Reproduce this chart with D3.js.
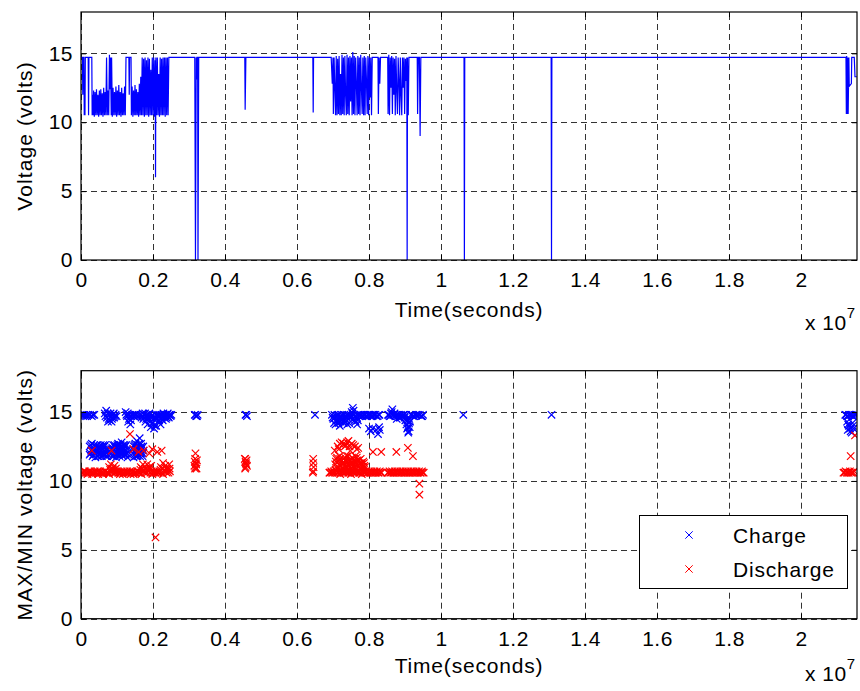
<!DOCTYPE html>
<html><head><meta charset="utf-8">
<script src="https://cdn.jsdelivr.net/npm/d3@7"></script>
<style>
body{margin:0;background:#fff;}
text{font-family:"Liberation Sans",Arial,sans-serif;fill:#000;}
</style></head>
<body>
<svg id="chart" width="860" height="691"></svg>
<script>
// ---------- DATA (time in units of 1e7 s, voltage in volts) ----------
const xTicks = [0,0.2,0.4,0.6,0.8,1,1.2,1.4,1.6,1.8,2];
const yTicks = [0,5,10,15];
const xMax = 2.1556;
const yMax = 18;
const seriesNames = ["Charge","Discharge"];
const topYLabel = "Voltage (volts)";
const botYLabel = "MAX/MIN voltage (volts)";
const xLabel = "Time(seconds)";

const voltageTrace = [
[0.000,14.7],[0.004,14.7],[0.005,12.0],[0.006,14.7],[0.008,14.7],[0.009,10.5],[0.010,12.2],[0.011,10.5],[0.012,14.7],
[0.020,14.7],[0.021,10.5],[0.022,14.7],[0.030,14.7],[0.031,10.5],[0.032,12.0],[0.034,10.5],[0.035,12.3],[0.037,10.4],
[0.039,12.2],[0.041,10.5],[0.043,12.4],[0.045,10.5],[0.047,12.0],[0.049,10.4],[0.051,12.3],[0.053,10.5],[0.055,12.4],
[0.057,10.5],[0.059,12.1],[0.061,10.4],[0.063,12.5],[0.065,10.5],[0.067,12.2],[0.069,10.5],[0.071,14.7],[0.073,10.5],
[0.075,12.3],[0.077,10.5],[0.079,14.9],[0.080,12.4],[0.082,14.7],[0.084,10.5],[0.085,14.7],[0.087,10.4],[0.089,12.5],
[0.091,10.5],[0.093,12.2],[0.095,10.5],[0.097,12.6],[0.099,10.4],[0.101,12.3],[0.103,10.5],[0.105,12.7],[0.107,10.5],
[0.109,12.2],[0.111,10.4],[0.113,12.5],[0.115,10.5],[0.117,12.1],[0.119,10.5],[0.121,12.6],[0.123,10.5],[0.125,14.7],
[0.133,14.7],[0.134,12.0],[0.135,14.7],[0.139,14.7],[0.140,10.5],[0.142,12.6],[0.144,10.4],[0.146,12.3],[0.148,10.5],
[0.150,12.7],[0.152,10.5],[0.154,12.4],[0.156,10.5],[0.158,12.2],[0.160,10.4],[0.162,12.8],[0.164,10.5],[0.166,13.3],
[0.168,10.5],[0.170,14.7],[0.172,10.5],[0.174,14.6],[0.176,10.4],[0.178,14.7],[0.180,10.5],[0.182,14.5],[0.184,10.5],
[0.186,14.7],[0.188,10.4],[0.190,14.6],[0.192,10.5],[0.194,13.8],[0.196,10.5],[0.198,14.7],[0.200,10.5],[0.202,14.7],
[0.204,10.4],[0.206,14.5],[0.207,6.0],[0.208,14.7],[0.210,10.5],[0.212,14.7],[0.214,10.5],[0.216,13.5],[0.218,10.4],
[0.220,14.7],[0.222,10.5],[0.224,14.6],[0.226,10.5],[0.228,14.7],[0.230,10.5],[0.232,14.7],[0.234,10.4],[0.236,14.7],
[0.238,10.5],[0.240,14.7],[0.242,10.5],[0.244,14.7],
[0.316,14.7],[0.318,0],[0.320,14.7],[0.321,13.1],[0.322,14.7],[0.324,14.7],[0.325,0],[0.327,14.7],
[0.455,14.7],[0.456,10.9],[0.458,14.7],
[0.644,14.7],[0.645,10.7],[0.646,14.7],
[0.695,14.7],[0.698,12.8],[0.700,14.7],[0.701,10.6],[0.703,14.7],[0.705,12.5],[0.707,10.5],[0.709,14.8],[0.711,10.5],
[0.713,14.6],[0.715,10.6],[0.717,14.8],[0.719,10.5],[0.721,13.5],[0.723,10.5],[0.725,14.9],[0.727,10.6],[0.729,14.7],
[0.731,10.5],[0.733,14.8],[0.735,12.0],[0.737,10.5],[0.739,14.9],[0.741,10.6],[0.743,14.7],[0.745,10.5],[0.747,14.8],
[0.749,11.5],[0.751,14.7],[0.753,10.5],[0.755,15.1],[0.757,10.6],[0.759,14.8],[0.761,10.5],[0.763,14.7],[0.765,12.8],
[0.767,10.5],[0.769,14.8],[0.771,10.6],[0.773,14.7],[0.775,10.5],[0.777,14.9],[0.779,12.5],[0.781,10.6],[0.783,14.7],
[0.785,10.5],[0.787,14.8],[0.789,10.5],[0.791,14.7],[0.793,13.0],[0.795,10.6],[0.797,14.8],[0.799,10.5],[0.801,14.7],
[0.803,11.8],[0.805,14.7],[0.807,10.5],[0.809,14.7],[0.825,14.7],[0.826,10.6],[0.828,14.7],[0.830,12.8],[0.832,14.7],
[0.852,14.7],[0.853,10.6],[0.855,14.9],[0.857,10.5],[0.859,14.7],[0.861,12.5],[0.863,14.8],[0.865,10.6],[0.867,14.7],
[0.869,12.0],[0.871,14.6],[0.873,10.5],[0.875,14.8],[0.877,12.3],[0.879,10.6],[0.881,14.7],[0.883,13.0],[0.885,10.5],
[0.887,14.7],[0.889,12.0],[0.891,10.5],[0.893,14.7],[0.895,12.5],[0.897,14.7],[0.899,10.6],[0.901,14.6],[0.903,13.0],
[0.905,14.7],[0.906,0],[0.907,14.7],[0.909,10.5],[0.911,14.7],
[0.934,14.7],[0.935,10.6],[0.937,14.7],[0.940,14.7],[0.942,9.0],[0.944,14.7],
[1.064,14.7],[1.065,0],[1.066,14.7],
[1.306,14.7],[1.307,0],[1.308,14.7],
[2.125,14.7],[2.126,10.6],[2.127,14.8],[2.128,10.6],[2.130,14.7],[2.131,10.6],[2.133,14.7],[2.134,12.6],[2.140,12.8],
[2.141,14.7],[2.148,14.7],[2.150,13.3],[2.155,13.3]
];

const chargePoints = [
[0.004,14.8],[0.012,14.7],[0.020,14.8],[0.030,14.7],[0.037,14.8],
[0.006,14.7],[0.009,14.8],[0.015,14.8],[0.017,14.7],[0.025,14.8],[0.033,14.8],
[0.066,14.9],[0.070,15.1],[0.072,14.6],[0.075,14.3],[0.078,14.8],[0.080,14.4],[0.083,14.7],[0.086,14.5],[0.089,14.8],
[0.092,14.6],[0.096,14.8],[0.099,14.7],
[0.068,14.7],[0.074,14.9],[0.077,14.5],[0.082,14.9],[0.085,14.3],[0.088,14.6],[0.091,14.9],[0.094,14.7],
[0.124,15.0],[0.128,14.7],[0.131,14.3],[0.134,14.8],[0.137,14.1],[0.140,14.7],[0.144,14.8],[0.148,14.7],[0.152,14.8],[0.157,14.7],
[0.126,14.8],[0.130,14.9],[0.133,14.5],[0.136,14.7],[0.139,14.4],[0.142,14.8],[0.146,14.7],[0.150,14.8],[0.155,14.8],
[0.166,14.8],[0.170,14.7],[0.173,14.5],[0.176,14.8],[0.179,14.3],[0.182,14.7],[0.185,14.1],[0.188,14.8],[0.191,14.4],
[0.194,13.9],[0.197,14.7],[0.200,14.2],[0.203,13.8],[0.206,14.6],[0.209,14.0],[0.212,14.8],[0.215,14.3],[0.218,14.7],
[0.221,14.1],[0.224,14.8],[0.227,14.4],[0.230,14.7],[0.233,14.8],[0.236,14.5],[0.239,14.8],[0.242,14.7],[0.245,14.8],[0.249,14.7],
[0.168,14.6],[0.171,14.9],[0.175,14.6],[0.178,14.9],[0.181,14.5],[0.184,14.8],[0.187,14.6],[0.190,14.9],[0.193,14.6],
[0.196,14.2],[0.199,14.8],[0.202,14.5],[0.205,14.0],[0.208,14.8],[0.211,14.5],[0.214,14.7],[0.217,14.4],[0.220,14.8],
[0.223,14.5],[0.226,14.7],[0.229,14.9],[0.232,14.6],[0.235,14.8],[0.238,14.6],[0.241,14.9],[0.244,14.6],[0.247,14.8],[0.251,14.8],
[0.316,14.8],[0.320,14.7],[0.324,14.8],[0.318,14.8],[0.322,14.7],[0.459,14.8],[0.457,14.8],[0.461,14.7],
[0.024,12.5],[0.024,11.9],[0.028,12.2],[0.030,12.7],[0.032,11.8],[0.035,12.4],[0.038,12.0],[0.040,11.7],[0.042,12.5],
[0.045,12.1],[0.048,11.8],[0.050,12.4],[0.053,12.0],[0.055,12.6],[0.058,11.8],[0.060,12.3],[0.063,11.9],[0.065,12.5],
[0.068,12.1],[0.070,11.8],[0.072,12.3],
[0.026,12.0],[0.027,12.6],[0.031,12.3],[0.034,11.9],[0.036,12.6],[0.039,12.3],[0.041,12.1],[0.044,12.6],[0.046,11.8],
[0.047,12.4],[0.049,12.1],[0.052,12.5],[0.054,11.8],[0.056,12.2],[0.059,12.5],[0.061,11.9],[0.062,12.6],[0.064,12.2],
[0.066,11.9],[0.067,12.6],[0.069,12.3],[0.071,12.0],[0.073,11.8],
[0.084,12.3],[0.086,11.8],[0.089,12.6],[0.092,12.0],[0.095,12.4],[0.097,11.7],[0.100,12.2],[0.103,12.7],[0.105,11.9],
[0.108,12.4],[0.111,12.0],[0.113,12.8],[0.116,11.8],[0.119,12.3],[0.121,12.6],[0.124,11.9],[0.127,12.2],[0.129,11.7],
[0.085,12.0],[0.087,12.4],[0.090,11.8],[0.091,12.3],[0.093,12.6],[0.094,11.9],[0.096,12.1],[0.098,12.5],[0.099,11.9],
[0.101,12.6],[0.102,12.0],[0.104,12.3],[0.106,12.6],[0.107,11.8],[0.109,12.1],[0.110,12.6],[0.112,12.3],[0.114,11.9],
[0.115,12.5],[0.117,12.1],[0.118,12.6],[0.120,11.9],[0.122,12.2],[0.123,12.5],[0.125,12.0],[0.126,12.6],[0.128,12.0],
[0.144,12.3],[0.146,11.7],[0.149,12.6],[0.152,12.0],[0.155,12.9],[0.157,11.8],[0.160,12.4],[0.163,13.1],[0.165,12.0],
[0.168,12.5],[0.171,11.8],[0.174,12.2],
[0.145,12.0],[0.147,12.5],[0.148,11.9],[0.150,12.2],[0.151,12.7],[0.153,11.8],[0.154,12.4],[0.156,12.1],[0.158,12.6],
[0.159,11.9],[0.161,12.1],[0.162,12.7],[0.164,11.8],[0.166,12.3],[0.167,12.7],[0.169,12.0],[0.170,12.4],[0.172,12.0],[0.173,12.5],
[0.650,14.8],
[0.697,14.8],[0.701,14.5],[0.704,14.8],[0.707,14.1],[0.710,14.7],[0.713,14.4],[0.716,14.8],[0.719,14.0],[0.722,14.6],
[0.725,14.8],[0.728,14.3],[0.731,14.8],[0.734,14.5],[0.737,14.7],[0.740,14.1],[0.743,14.8],[0.746,14.6],[0.749,14.8],
[0.752,15.0],[0.755,15.3],[0.758,14.8],[0.761,14.4],[0.764,14.7],[0.767,14.1],[0.770,14.8],[0.774,14.7],[0.778,14.8],
[0.782,14.7],[0.787,14.8],[0.792,14.7],[0.797,14.8],[0.802,14.8],[0.807,14.7],[0.812,14.8],[0.818,14.8],[0.824,14.7],[0.829,14.8],
[0.699,14.6],[0.703,14.2],[0.706,14.6],[0.709,14.4],[0.712,14.8],[0.715,14.2],[0.718,14.6],[0.721,14.3],[0.724,14.7],
[0.727,14.5],[0.730,14.2],[0.733,14.7],[0.736,14.3],[0.739,14.8],[0.742,14.5],[0.745,14.2],[0.748,14.6],[0.751,14.7],
[0.754,14.9],[0.757,15.1],[0.760,14.7],[0.763,14.3],[0.766,14.6],[0.769,14.4],[0.772,14.7],[0.776,14.8],[0.780,14.7],
[0.784,14.8],[0.790,14.8],[0.795,14.7],[0.800,14.8],[0.805,14.8],[0.810,14.7],[0.815,14.8],[0.821,14.7],[0.827,14.8],
[0.800,13.8],[0.805,13.6],[0.810,13.8],[0.820,13.7],[0.825,13.4],[0.830,13.7],[0.828,13.9],
[0.853,14.8],[0.857,14.7],[0.861,14.9],[0.865,15.2],[0.869,14.8],[0.873,14.7],[0.877,14.5],[0.881,14.8],[0.885,14.6],
[0.889,14.8],[0.893,14.7],[0.897,14.8],[0.901,14.4],[0.904,14.1],[0.906,13.8],[0.909,13.5],[0.911,14.2],[0.913,13.9],
[0.916,14.8],[0.922,14.7],[0.930,14.8],[0.937,14.8],[0.945,14.7],[0.950,14.8],
[0.855,14.8],[0.859,14.7],[0.863,15.0],[0.867,14.8],[0.871,14.9],[0.875,14.8],[0.879,14.7],[0.883,14.8],[0.887,14.6],
[0.891,14.7],[0.895,14.8],[0.899,14.6],[0.903,14.8],[0.907,14.4],[0.908,13.9],[0.910,13.6],[0.912,14.5],[0.914,14.3],
[0.919,14.8],[0.926,14.7],[0.933,14.8],[0.941,14.8],[0.948,14.7],
[1.062,14.8],[1.307,14.8],
[2.123,14.8],[2.128,14.7],[2.133,14.8],[2.138,14.8],[2.143,14.7],[2.148,14.8],[2.153,14.8],[2.128,14.3],[2.133,14.0],
[2.138,13.6],[2.143,14.2],[2.146,13.8],[2.130,13.7],
[2.125,14.8],[2.131,14.7],[2.136,14.8],[2.141,14.8],[2.146,14.7],[2.151,14.8],[2.131,14.1],[2.136,13.8],[2.141,13.5],[2.144,14.0]
];

const dischargePoints = [
[0.003,10.6],[0.008,10.7],[0.013,10.6],[0.018,10.5],[0.023,10.7],[0.028,10.6],[0.033,10.6],[0.038,10.7],[0.043,10.6],
[0.048,10.5],[0.053,10.7],[0.058,10.6],[0.063,10.6],[0.068,10.7],[0.073,10.6],[0.078,10.5],[0.083,10.7],[0.088,10.6],
[0.093,10.6],[0.098,10.7],[0.103,10.6],[0.108,10.5],[0.113,10.7],[0.118,10.6],[0.123,10.6],[0.128,10.7],[0.133,10.6],
[0.138,10.5],[0.143,10.7],[0.148,10.6],[0.153,10.6],[0.158,10.7],[0.163,10.6],[0.168,10.5],[0.173,10.7],[0.178,10.6],
[0.183,10.6],[0.188,10.7],[0.193,10.6],[0.198,10.5],[0.203,10.7],[0.208,10.6],[0.213,10.6],[0.218,10.7],[0.223,10.6],
[0.228,10.5],[0.233,10.7],[0.238,10.6],[0.243,10.6],[0.247,10.7],
[0.006,10.6],[0.011,10.7],[0.016,10.6],[0.021,10.6],[0.026,10.7],[0.031,10.5],[0.036,10.6],[0.041,10.6],[0.046,10.7],
[0.051,10.6],[0.056,10.6],[0.061,10.5],[0.066,10.7],[0.071,10.6],[0.076,10.6],[0.081,10.8],[0.086,10.9],[0.091,10.8],
[0.096,10.6],[0.101,10.7],[0.106,10.6],[0.111,10.6],[0.116,10.5],[0.121,10.7],[0.126,10.6],[0.131,10.6],[0.136,10.7],
[0.141,10.6],[0.146,10.5],[0.151,10.6],[0.156,10.7],[0.161,10.6],[0.165,10.8],[0.170,10.9],[0.175,10.8],[0.181,10.9],
[0.186,10.8],[0.191,10.9],[0.196,10.7],[0.201,10.6],[0.206,10.6],[0.211,10.7],[0.216,10.6],[0.221,10.8],[0.226,10.9],
[0.231,10.8],[0.236,10.9],[0.241,10.8],[0.246,10.9],
[0.078,11.0],[0.083,11.2],[0.088,10.9],[0.093,11.1],[0.097,10.9],[0.166,11.0],[0.172,11.2],[0.178,10.9],[0.184,11.2],
[0.190,11.0],[0.195,11.1],[0.222,11.0],[0.228,11.3],[0.234,11.1],[0.240,10.9],[0.245,11.2],
[0.030,12.2],[0.085,12.2],[0.136,13.4],[0.146,12.3],[0.160,12.1],[0.174,12.2],[0.190,12.0],[0.198,12.3],[0.212,12.1],[0.224,12.2],
[0.207,5.9],
[0.318,12.0],[0.316,11.4],[0.320,11.2],[0.318,11.0],[0.322,11.5],[0.315,11.1],[0.321,10.9],[0.317,11.6],[0.319,11.3],[0.317,10.9],
[0.455,11.6],[0.458,11.3],[0.461,11.1],[0.456,10.9],[0.460,11.5],[0.457,11.0],[0.457,11.4],[0.459,11.2],[0.456,11.6],
[0.645,11.6],[0.645,11.3],[0.646,11.0],[0.645,10.7],[0.644,10.6],
[0.690,10.6],[0.695,10.7],[0.700,10.6],[0.705,10.6],[0.710,10.7],[0.715,10.6],[0.720,10.5],[0.725,10.7],[0.730,10.6],
[0.735,10.6],[0.740,10.7],[0.745,10.6],[0.750,10.5],[0.755,10.7],[0.760,10.6],[0.765,10.6],[0.770,10.7],[0.775,10.6],
[0.780,10.5],[0.785,10.7],[0.790,10.6],[0.795,10.6],[0.800,10.7],[0.805,10.6],[0.810,10.6],[0.815,10.7],[0.820,10.6],
[0.825,10.6],[0.830,10.7],[0.835,10.6],[0.852,10.6],[0.857,10.7],[0.862,10.6],[0.867,10.6],[0.872,10.7],[0.877,10.6],
[0.882,10.6],[0.887,10.7],[0.892,10.6],[0.897,10.6],[0.902,10.7],[0.907,10.6],[0.912,10.6],[0.917,10.7],[0.922,10.6],
[0.927,10.6],[0.932,10.7],[0.937,10.6],[0.942,10.6],[0.947,10.7],[0.952,10.6],
[0.692,10.6],[0.697,10.6],[0.702,10.7],[0.707,10.8],[0.712,10.6],[0.717,10.7],[0.722,10.8],[0.727,10.6],[0.732,10.8],
[0.737,10.7],[0.742,10.6],[0.747,10.8],[0.752,10.7],[0.757,10.6],[0.762,10.8],[0.767,10.7],[0.772,10.6],[0.777,10.8],
[0.782,10.7],[0.787,10.6],[0.792,10.7],[0.797,10.6],[0.802,10.6],[0.807,10.7],[0.812,10.6],[0.817,10.6],[0.822,10.7],
[0.827,10.6],[0.832,10.6],[0.854,10.6],[0.859,10.6],[0.864,10.7],[0.869,10.6],[0.874,10.6],[0.879,10.7],[0.884,10.6],
[0.889,10.6],[0.894,10.7],[0.899,10.6],[0.904,10.6],[0.909,10.7],[0.914,10.6],[0.919,10.6],[0.924,10.7],[0.929,10.6],
[0.934,10.6],[0.939,10.7],[0.944,10.6],[0.949,10.6],
[0.706,11.2],[0.709,11.6],[0.712,10.9],[0.715,11.4],[0.718,11.8],[0.721,11.1],[0.724,11.5],[0.727,10.9],[0.730,11.3],
[0.733,11.7],[0.736,11.0],[0.739,11.4],[0.742,11.8],[0.745,11.1],[0.748,11.5],[0.751,10.9],[0.754,11.3],[0.757,11.6],
[0.760,11.0],[0.763,11.4],[0.766,11.7],[0.769,11.1],[0.772,11.5],[0.775,10.9],[0.778,11.3],[0.781,11.0],[0.784,11.4],[0.787,11.1],
[0.708,11.4],[0.711,11.7],[0.714,11.0],[0.717,11.2],[0.720,11.6],[0.723,11.0],[0.726,11.3],[0.729,11.6],[0.732,11.1],
[0.735,11.5],[0.738,11.8],[0.741,11.2],[0.744,11.5],[0.747,11.0],[0.750,11.3],[0.753,11.7],[0.756,11.1],[0.759,11.4],
[0.762,11.8],[0.765,11.2],[0.768,11.5],[0.771,11.0],[0.774,11.3],[0.777,11.6],[0.780,11.2],[0.783,11.0],[0.786,11.3],[0.789,11.0],
[0.705,12.2],[0.719,12.7],[0.729,12.7],[0.743,12.9],[0.752,12.7],[0.761,12.5],[0.770,12.4],[0.713,12.5],[0.736,12.6],[0.748,12.2],
[0.716,12.3],[0.724,12.8],[0.733,12.5],[0.739,12.8],[0.746,12.5],[0.756,12.6],[0.766,12.3],
[0.811,12.1],[0.834,12.1],[0.876,12.1],[0.908,12.4],[0.922,11.8],[0.940,9.8],[0.940,9.0],
[2.118,10.6],[2.124,10.7],[2.130,10.6],[2.136,10.7],[2.142,10.6],[2.148,10.7],[2.138,11.8],[2.150,13.3],
[2.121,10.6],[2.127,10.6],[2.133,10.6],[2.139,10.6],[2.145,10.6]
];

// ---------- DRAWING ----------
const svg = d3.select("#chart");
svg.append("rect").attr("width",860).attr("height",691).attr("fill","#fff");

const L = 81, R = 857;
const x = d3.scaleLinear().domain([0,xMax]).range([L,R]);
const panels = [
  {top:12, bottom:260, label:topYLabel, xlabY:317, x10Y:330},
  {top:370.7, bottom:618.7, label:botYLabel, xlabY:673, x10Y:681}
];
const fmt = d => String(+d.toFixed(1));
const marker = "M-3.7,-3.7L3.7,3.7M-3.7,3.7L3.7,-3.7";

panels.forEach((p,i) => {
  const y = d3.scaleLinear().domain([0,yMax]).range([p.bottom,p.top]);
  const g = svg.append("g");
  // grid
  const grid = g.append("g").attr("stroke","#333").attr("stroke-width",1).attr("stroke-dasharray","6,4");
  grid.selectAll(".gx").data(xTicks).join("line")
    .attr("x1",d=>Math.round(x(d))+0.5).attr("x2",d=>Math.round(x(d))+0.5)
    .attr("y1",p.bottom).attr("y2",p.top);
  grid.selectAll(".gy").data(yTicks).join("line")
    .attr("y1",d=>Math.round(y(d))+0.5).attr("y2",d=>Math.round(y(d))+0.5)
    .attr("x1",L).attr("x2",R);

  // data
  const clip = "clip"+i;
  svg.append("clipPath").attr("id",clip).append("rect")
    .attr("x",L).attr("y",p.top).attr("width",R-L).attr("height",p.bottom-p.top);
  if (i===0) {
    g.append("path").datum(voltageTrace)
      .attr("clip-path",`url(#${clip})`)
      .attr("fill","none").attr("stroke","#0000ff").attr("stroke-width",1.2)
      .attr("d", d3.line().x(d=>x(d[0])).y(d=>y(d[1])));
  } else {
    const dg = g.append("g").attr("clip-path",`url(#${clip})`).attr("fill","none").attr("stroke-width",1.2);
    dg.selectAll(".c").data(chargePoints).join("path")
      .attr("d",marker).attr("stroke","#0000ff")
      .attr("transform",d=>`translate(${x(d[0])},${y(d[1])})`);
    dg.selectAll(".dch").data(dischargePoints).join("path")
      .attr("d",marker).attr("stroke","#ff0000")
      .attr("transform",d=>`translate(${x(d[0])},${y(d[1])})`);
  }

  // axes
  g.append("g").attr("transform",`translate(0,${p.bottom})`)
    .call(d3.axisBottom(x).tickValues(xTicks).tickFormat(fmt).tickSizeInner(-5).tickSizeOuter(0).tickPadding(12));
  g.append("g").attr("transform",`translate(${L},0)`)
    .call(d3.axisLeft(y).tickValues(yTicks).tickSizeInner(-5).tickSizeOuter(0).tickPadding(8));
  g.append("g").attr("transform",`translate(0,${p.top})`)
    .call(d3.axisTop(x).tickValues(xTicks).tickFormat("").tickSizeInner(-5).tickSizeOuter(0));
  g.append("g").attr("transform",`translate(${R},0)`)
    .call(d3.axisRight(y).tickValues(yTicks).tickFormat("").tickSizeInner(-5).tickSizeOuter(0));
  g.selectAll(".domain").remove();
  g.selectAll(".tick line").attr("stroke","#000");
  g.selectAll(".tick text").attr("font-size",21).attr("letter-spacing",0.5)
    .attr("font-family","'Liberation Sans',Arial,sans-serif").attr("fill","#000");
  // box
  g.append("rect").attr("x",L).attr("y",p.top).attr("width",R-L).attr("height",p.bottom-p.top)
    .attr("fill","none").attr("stroke","#000").attr("stroke-width",1.2);

  // labels
  g.append("text").attr("x",(L+R)/2).attr("y",p.xlabY).attr("text-anchor","middle")
    .attr("font-size",21).attr("letter-spacing",0.8).text(xLabel);
  g.append("text").attr("transform",`translate(32,${(p.top+p.bottom)/2}) rotate(-90)`)
    .attr("text-anchor","middle").attr("font-size",21).attr("letter-spacing",1.1).text(p.label);
  const xt = g.append("text").attr("x",805).attr("y",p.x10Y).attr("font-size",21).attr("letter-spacing",0.5);
  xt.append("tspan").text("x 10");
  xt.append("tspan").attr("dy",-12).attr("font-size",15).text("7");
});

// legend
const lg = svg.append("g");
lg.append("rect").attr("x",639.5).attr("y",515.5).attr("width",208).attr("height",73)
  .attr("fill","#fff").attr("stroke","#000").attr("stroke-width",1);
const colors = ["#0000ff","#ff0000"];
seriesNames.forEach((n,i) => {
  const yy = 535 + i*34;
  lg.append("path").attr("d",marker).attr("fill","none").attr("stroke",colors[i]).attr("stroke-width",1)
    .attr("transform",`translate(689,${yy})`);
  lg.append("text").attr("x",733).attr("y",yy+8).attr("font-size",21).attr("letter-spacing",0.8).text(n);
});
</script>
</body></html>
